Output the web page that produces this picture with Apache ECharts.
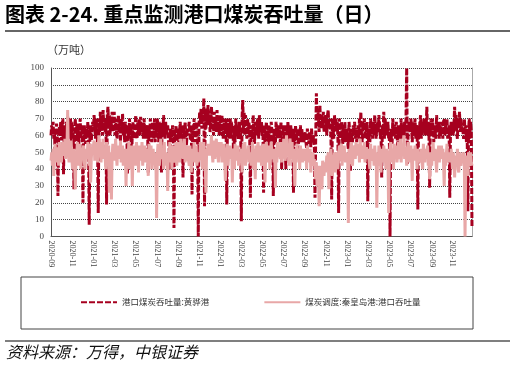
<!DOCTYPE html>
<html><head><meta charset="utf-8">
<script src="https://cdn.jsdelivr.net/npm/echarts@6/dist/echarts.min.js"></script>
<style>html,body{margin:0;padding:0;background:#fff}#c{width:515px;height:367px}</style>
</head><body><div id="c"></div>
<script>
// readings of the daily series, one every 2 days from the start date
const startDate = '2020-09-01';
const stepDays = 2;
const tickLabels = ['2020-09','2020-11','2021-01','2021-03','2021-05','2021-07','2021-09','2021-11',
  '2022-01','2022-03','2022-05','2022-07','2022-09','2022-11','2023-01','2023-03','2023-05','2023-07','2023-09','2023-11'];
const yMin = 0, yMax = 100, yStep = 10;
const seriesNames = ['港口煤炭吞吐量:黄骅港', '煤炭调度:秦皇岛港:港口吞吐量'];

// 港口煤炭吞吐量:黄骅港 (万吨), one row per month
const huanghua = [
  60,66,62,68,58,64,45,63,67,60,24,58,65,62,68,
  57,66,70,37,60,66,55,68,62,71,58,66,60,70,56,68,
  64,60,28,62,70,56,66,60,67,55,64,70,58,66,60,
  20,60,66,58,55,64,60,68,57,7,62,66,57,63,68,
  63,72,66,58,70,64,55,14,70,62,74,66,68,60,75,66,
  68,62,70,19,72,77,64,72,60,70,66,74,62,68,
  74,60,70,64,58,66,72,62,68,56,70,64,73,60,66,
  56,68,62,66,37,64,58,70,60,66,43,62,68,58,60,
  65,72,60,58,68,62,70,60,71,64,62,66,58,70,62,66,
  58,64,66,38,66,60,70,62,56,68,64,58,70,56,64,
  62,70,64,56,68,60,66,38,68,60,72,64,58,68,60,
  60,66,58,52,40,64,60,56,66,62,5,62,58,66,54,60,
  64,55,62,68,58,66,60,35,66,58,68,60,54,64,62,
  62,68,60,57,66,25,66,60,70,62,56,68,64,58,0,
  66,74,68,76,64,72,70,82,18,76,64,74,66,78,68,
  72,62,68,77,65,70,60,74,66,70,62,75,64,68,60,72,
  68,60,72,64,58,66,70,62,68,19,70,62,66,58,70,
  58,68,62,66,41,64,56,70,60,66,62,58,68,62,
  64,9,70,81,64,74,60,72,66,58,70,62,68,60,23,66,
  66,58,72,62,55,68,64,60,70,66,58,72,62,64,68,
  60,66,26,66,55,62,68,58,64,52,66,60,56,68,62,
  60,24,64,58,55,68,62,58,66,60,64,56,68,40,62,
  60,66,58,62,40,66,55,68,60,64,58,66,62,56,64,26,
  62,54,66,60,58,64,52,62,60,66,56,64,58,60,56,
  58,62,56,52,64,60,55,62,60,53,64,58,56,60,54,
  23,58,85,66,76,70,62,78,68,64,72,66,74,62,70,72,
  68,60,72,75,64,70,66,58,22,70,64,58,72,66,70,
  62,68,58,14,70,64,58,68,62,55,66,60,68,56,64,
  60,56,52,68,62,39,64,58,56,66,60,68,58,64,56,62,
  66,58,70,62,74,60,56,68,64,70,58,66,62,68,
  21,64,60,56,70,62,66,58,68,60,72,64,58,66,68,
  62,72,66,58,64,35,66,60,74,58,70,62,66,60,68,
  58,62,0,64,58,55,70,62,60,66,58,68,62,52,66,60,
  64,56,70,62,60,66,58,68,62,70,100,43,60,68,64,
  62,70,64,56,68,62,60,70,58,66,64,16,66,60,68,
  72,58,66,68,62,70,60,66,64,77,60,68,62,29,66,70,
  60,70,64,56,66,62,58,72,64,62,68,58,66,60,68,
  64,58,68,70,60,66,62,70,58,64,66,23,62,68,60,
  68,60,66,77,64,72,62,58,70,66,74,62,70,64,66,
  66,58,70,62,66,56,64,15,62,70,58,68,62,5
];
// 煤炭调度:秦皇岛港:港口吞吐量 (万吨), one row per month
const qinhuangdao = [
  45,50,42,52,36,48,55,44,50,46,53,42,56,48,51,
  44,52,56,48,50,58,46,54,52,75,50,44,55,48,57,46,
  40,48,52,44,28,50,45,56,42,52,46,55,40,50,47,
  48,54,44,40,52,50,46,56,48,42,55,32,46,53,50,
  50,57,45,52,48,56,44,52,60,48,56,44,54,50,58,46,
  52,46,40,56,50,48,54,26,50,46,22,48,55,45,
  55,45,58,50,42,54,48,52,46,57,44,50,54,42,48,
  46,52,30,48,52,44,56,40,50,48,54,30,48,54,46,
  50,42,56,48,52,38,54,45,52,48,56,42,50,46,54,44,
  44,52,48,36,55,46,50,54,40,48,52,44,50,40,46,
  11,48,55,44,42,52,58,46,50,52,40,56,46,50,42,
  48,27,50,44,56,48,52,40,54,46,44,54,48,56,42,50,
  50,56,44,52,58,48,54,46,52,58,44,50,45,54,48,
  48,42,54,55,38,50,52,46,56,44,50,54,42,48,44,
  50,45,56,48,54,40,50,56,48,44,26,52,48,55,50,
  55,48,52,60,50,44,57,52,46,54,58,48,52,44,56,50,
  50,56,44,52,48,55,46,33,50,48,55,42,52,46,54,
  46,52,32,50,52,40,55,45,50,48,54,42,50,46,
  44,52,38,50,55,47,56,42,50,52,46,54,44,50,48,42,
  48,56,40,52,48,34,54,45,50,56,44,52,46,54,42,
  50,42,55,48,32,48,56,44,52,46,54,40,50,56,48,
  46,52,44,50,29,52,44,56,48,54,50,46,56,44,52,
  50,58,52,45,48,60,48,55,50,42,58,52,46,56,44,52,
  46,30,50,44,55,48,46,52,40,54,48,50,44,52,48,
  45,52,48,40,54,44,50,46,52,38,48,44,50,42,46,
  40,34,44,30,42,36,18,35,42,38,28,45,40,36,44,38,
  38,48,44,50,28,46,42,52,40,36,48,44,50,38,46,
  50,44,40,48,54,45,52,55,42,50,46,54,48,44,50,
  44,50,8,52,46,50,56,44,42,52,50,54,46,56,48,52,
  48,55,44,58,50,52,46,54,48,56,44,50,53,46,
  46,52,44,40,55,48,45,52,50,42,54,46,50,17,48,
  42,54,48,46,38,52,50,44,54,48,50,40,52,46,50,
  14,48,52,56,44,50,52,40,55,48,46,54,44,50,56,46,
  50,58,44,52,55,48,60,46,53,50,42,52,56,48,44,
  48,54,46,33,52,50,45,54,48,50,40,52,46,44,50,
  46,52,44,40,55,48,44,52,50,46,54,42,48,34,50,46,
  42,50,56,48,45,52,46,38,50,48,54,44,52,48,54,
  46,52,44,30,50,42,48,55,44,50,46,48,44,52,46,
  40,50,44,35,48,46,44,52,40,38,48,50,42,46,44,
  45,50,42,0,40,48,44,36,50,46,42,50,44,42
];

// build date categories
const dates = [];
const t0 = Date.UTC(+startDate.slice(0,4), +startDate.slice(5,7)-1, +startDate.slice(8,10));
for (let i = 0; i < huanghua.length; i++) {
  const d = new Date(t0 + i * stepDays * 86400000);
  const s = d.getUTCFullYear() + '-' + String(d.getUTCMonth()+1).padStart(2,'0') + '-' + String(d.getUTCDate()).padStart(2,'0');
  dates.push(s);
}
const showIdx = new Set();
tickLabels.forEach(t => { const i = dates.findIndex(d => d.slice(0,7) === t); if (i >= 0) showIdx.add(i); });

const RED = '#A6001F', PINK = '#E8A7A7';
const chart = echarts.init(document.getElementById('c'), null, {renderer: 'canvas'});
chart.setOption({
  animation: false,
  backgroundColor: '#fff',
  title: [
    {text: '图表 2-24. 重点监测港口煤炭吞吐量（日）', left: 5, top: 4, padding: 0,
     textStyle: {fontSize: 20, fontWeight: 'bold', color: '#000', fontFamily: 'Noto Sans CJK SC'}},
    {text: '（万吨）', left: 47, top: 44, padding: 0,
     textStyle: {fontSize: 11, fontWeight: 'normal', color: '#333', fontFamily: 'Noto Sans CJK SC'}},
    {text: '资料来源：万得，中银证券', left: 6, top: 344, padding: 0,
     textStyle: {fontSize: 16, fontWeight: 'normal', fontStyle: 'italic', color: '#111', fontFamily: 'Noto Sans CJK SC'}}
  ],
  graphic: [
    {type: 'line', shape: {x1: 5, y1: 31, x2: 510, y2: 31}, style: {stroke: '#333', lineWidth: 1.5}},
    {type: 'line', shape: {x1: 5, y1: 341, x2: 510, y2: 341}, style: {stroke: '#555', lineWidth: 1.5}},
    {type: 'rect', shape: {x: 21, y: 277, width: 452, height: 52}, style: {fill: 'none', stroke: '#444', lineWidth: 1}}
  ],
  legend: {
    data: seriesNames, left: 80, top: 298, padding: 0, itemWidth: 36, itemHeight: 8, itemGap: 54,
    itemStyle: {opacity: 0},
    textStyle: {fontSize: 8.5, color: '#333', fontFamily: 'Noto Sans CJK SC'}
  },
  grid: {left: 51, right: 43, top: 68, bottom: 130.5},
  xAxis: {
    type: 'category', data: dates, boundaryGap: false,
    axisLine: {lineStyle: {color: '#555', width: 1}},
    axisTick: {show: false},
    axisLabel: {rotate: -90, fontSize: 8, color: '#444', fontFamily: 'Liberation Serif', margin: 4,
      interval: (i) => showIdx.has(i), formatter: v => v.slice(0,7)},
    splitLine: {show: false}
  },
  yAxis: [{
    type: 'value', min: yMin, max: yMax, interval: yStep,
    axisLine: {show: true, lineStyle: {color: '#555', width: 1}},
    axisTick: {show: false},
    axisLabel: {fontSize: 9, color: '#444', fontFamily: 'Liberation Serif', margin: 7},
    splitLine: {lineStyle: {color: '#444', type: 'dotted', width: 1}}
  }, {
    type: 'value', min: yMin, max: yMax, interval: yStep, position: 'right',
    axisLine: {show: true, lineStyle: {color: '#aaa', width: 1}},
    axisTick: {show: false}, axisLabel: {show: false}, splitLine: {show: false}
  }],
  series: [
    {name: seriesNames[0], type: 'line', data: huanghua, symbol: 'none', z: 2,
     itemStyle: {color: RED}, lineStyle: {color: RED, width: 3, type: [6, 2]}},
    {name: seriesNames[1], type: 'line', data: qinhuangdao, symbol: 'none', z: 3,
     itemStyle: {color: PINK}, lineStyle: {color: PINK, width: 3}}
  ]
});
</script>
</body></html>
